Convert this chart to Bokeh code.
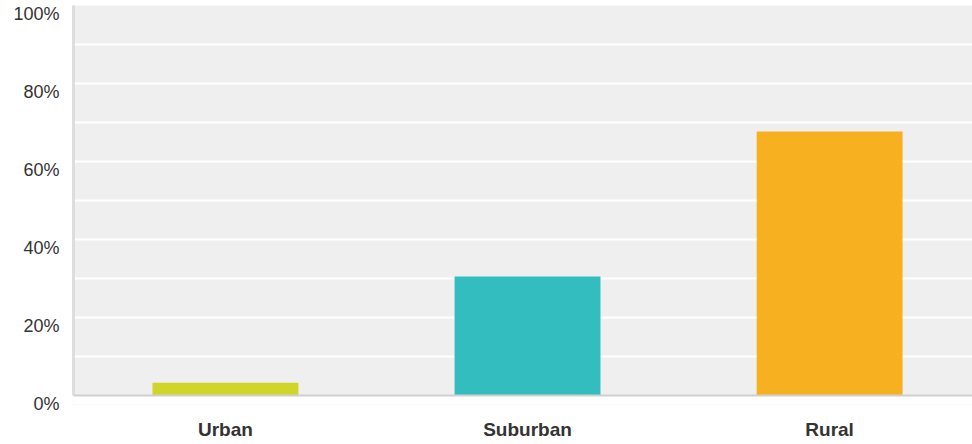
from bokeh.plotting import figure
from bokeh.models import (Range1d, FixedTicker, ColumnDataSource, LinearAxis,
                          CustomJSTickFormatter, BoxAnnotation, Span)
from bokeh.embed import file_html
from bokeh.resources import INLINE

categories = ["Urban", "Suburban", "Rural"]
values = [3.3, 30.5, 67.7]
colors = ["#D0D52A", "#33BDBF", "#F7B020"]
y_ticks = [0, 20, 40, 60, 80, 100]
grid_ticks = [10, 20, 30, 40, 50, 60, 70, 80, 90]

positions = list(range(len(categories)))
source = ColumnDataSource(data=dict(pos=positions, val=values, color=colors))

# y range starts a little below 0 so that the 0% label (which sits just
# under the baseline) is drawn by the axis; that strip is painted white.
y_low = -2.3
p = figure(x_range=Range1d(-0.503, 2.473), y_range=Range1d(y_low, 100),
           width=972, height=444, output_backend="svg", toolbar_location=None,
           min_border_left=73, min_border_right=0, min_border_top=5, min_border_bottom=40)

p.vbar(x="pos", top="val", width=0.483, color="color", source=source, line_color=None)

p.background_fill_color = "#EFEFEF"
p.border_fill_color = "white"
p.outline_line_color = None

p.add_layout(BoxAnnotation(bottom=y_low, top=0, fill_color="white", fill_alpha=1,
                           line_color=None, level="underlay"))

p.xgrid.grid_line_color = None
p.ygrid.ticker = FixedTicker(ticks=grid_ticks)
p.ygrid.grid_line_color = "white"
p.ygrid.grid_line_width = 2

# baseline
p.add_layout(Span(location=0, dimension="width", line_color="#D0D0D0", line_width=2))

# main y axis: only the light grey line from 0 to 100
p.yaxis.ticker = FixedTicker(ticks=y_ticks)
p.yaxis.bounds = (0, 100)
p.yaxis.major_label_overrides = {t: "" for t in y_ticks}
p.yaxis.major_label_standoff = 0
p.yaxis.axis_line_color = "#DDDDDD"
p.yaxis.axis_line_width = 3
p.yaxis.major_tick_line_color = None
p.yaxis.minor_tick_line_color = None
p.yaxis.major_tick_out = 0
p.yaxis.major_tick_in = 0

# label axis: same scale, shifted a few pixels so labels sit just below each tick
shift = 2.2
p.extra_y_ranges = {"labels": Range1d(y_low + shift, 100 + shift)}
lab_axis = LinearAxis(y_range_name="labels", ticker=FixedTicker(ticks=y_ticks),
                      formatter=CustomJSTickFormatter(code="return tick + '%';"))
lab_axis.axis_line_color = None
lab_axis.major_tick_line_color = None
lab_axis.minor_tick_line_color = None
lab_axis.major_tick_out = 0
lab_axis.major_tick_in = 0
lab_axis.major_label_standoff = 14
lab_axis.major_label_text_font = "Liberation Sans"
lab_axis.major_label_text_font_size = "18px"
lab_axis.major_label_text_color = "#333333"
p.add_layout(lab_axis, "left")

p.xaxis.ticker = FixedTicker(ticks=positions)
p.xaxis.major_label_overrides = {i: c for i, c in zip(positions, categories)}
p.xaxis.axis_line_color = None
p.xaxis.major_tick_line_color = None
p.xaxis.minor_tick_line_color = None
p.xaxis.major_tick_out = 0
p.xaxis.major_tick_in = 0
p.xaxis.major_label_standoff = 14
p.xaxis.major_label_text_font = "Liberation Sans"
p.xaxis.major_label_text_font_size = "19px"
p.xaxis.major_label_text_font_style = "bold"
p.xaxis.major_label_text_color = "#333333"

open("out.html", "w").write(file_html(p, INLINE))
